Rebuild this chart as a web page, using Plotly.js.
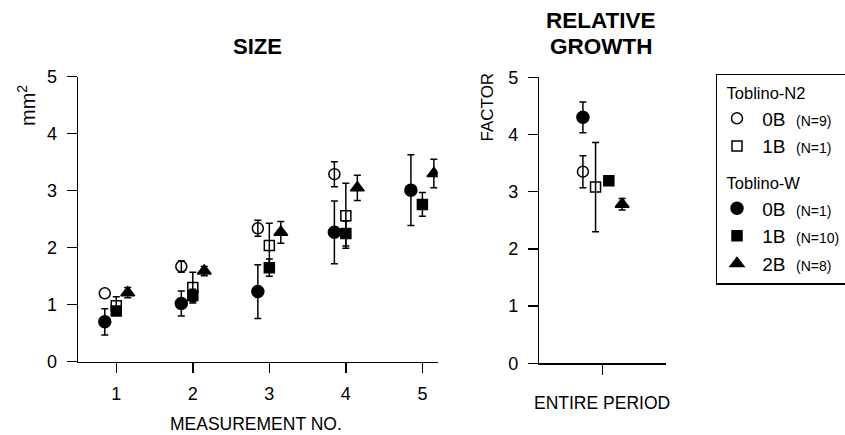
<!DOCTYPE html>
<html>
<head>
<meta charset="utf-8">
<script src="https://cdn.plot.ly/plotly-3.0.1.min.js"></script>
<style>html,body{margin:0;padding:0;background:#fff;}#chart{width:845px;height:435px;}</style>
</head>
<body>
<div id="chart"></div>
<script>
// ---- data ----
var measurements = [1, 2, 3, 4, 5];
var tickLabelsY = ['0', '1', '2', '3', '4', '5'];

// SIZE (mm^2), mean and error (NaN = no visible error bar)
var n2_0B_size = [1.20, 1.67, 2.34, 3.29, null];
var n2_0B_err  = [NaN, 0.10, 0.14, 0.22, NaN];
var n2_1B_size = [0.98, 1.30, 2.04, 2.56, null];
var n2_1B_err  = [0.16, 0.27, 0.39, 0.57, NaN];
var w_0B_size  = [0.70, 1.02, 1.23, 2.27, 3.01];
var w_0B_err   = [0.23, 0.22, 0.47, 0.55, 0.62];
var w_1B_size  = [0.89, 1.16, 1.65, 2.25, 2.76];
var w_1B_err   = [NaN, 0.11, 0.15, 0.22, 0.21];
var w_2B_size  = [1.21, 1.59, 2.27, 3.05, 3.30];
var w_2B_err   = [0.09, 0.08, 0.19, 0.22, 0.25];

// RELATIVE GROWTH factor (entire period)
var growthCategory = 0;
var n2_0B_growth = 3.35, n2_0B_growth_err = 0.28;
var n2_1B_growth = 3.08, n2_1B_growth_err = 0.78;
var w_0B_growth  = 4.30, w_0B_growth_err  = 0.27;
var w_1B_growth  = 3.19, w_1B_growth_err  = NaN;
var w_2B_growth  = 2.78, w_2B_growth_err  = 0.10;

var seriesNames = ['0B', '1B', '0B', '1B', '2B'];
var seriesN = ['(N=9)', '(N=1)', '(N=1)', '(N=10)', '(N=8)'];
var groupTitles = ['Toblino-N2', 'Toblino-W'];

// ---- styling (not data) ----
var dodgeSize = [-0.15, 0, -0.15, 0, 0.15];
var dodgeGrowth = [-0.31, -0.11, -0.31, 0.10, 0.31];
var groups = ['n2', 'n2', 'w', 'w', 'w'];
var symbols = ['circle-open', 'square-open', 'circle', 'square', 'triangle-up'];
var msizes = [11, 10, 12, 10, 12];

var sizeVals = [n2_0B_size, n2_1B_size, w_0B_size, w_1B_size, w_2B_size];
var sizeErrs = [n2_0B_err, n2_1B_err, w_0B_err, w_1B_err, w_2B_err];
var growthVals = [n2_0B_growth, n2_1B_growth, w_0B_growth, w_1B_growth, w_2B_growth];
var growthErrs = [n2_0B_growth_err, n2_1B_growth_err, w_0B_growth_err, w_1B_growth_err, w_2B_growth_err];

var FONT = 'Liberation Sans, Arial, Helvetica, sans-serif';
var NB = '\u00a0';
var traces = [];
for (var i = 0; i < 5; i++) {
  var gi = groups[i] === 'n2' ? 0 : 1;
  var xs = measurements.map(function (m) { return m + dodgeSize[i]; });
  traces.push({
    type: 'scatter', mode: 'markers', xaxis: 'x', yaxis: 'y',
    x: xs, y: sizeVals[i],
    error_y: {type: 'data', array: sizeErrs[i], visible: true, color: '#000', thickness: 1.5, width: 3.5},
    marker: {symbol: symbols[i], size: msizes[i], color: '#000', line: {color: '#000', width: 1.5}},
    name: NB + seriesNames[i] + NB + NB + '<span style="font-size:14px">' + seriesN[i] + '</span>',
    legendgroup: groups[i],
    legendgrouptitle: {text: NB + groupTitles[gi], font: {size: 16.5, family: FONT, color: '#000'}},
    showlegend: true, hoverinfo: 'skip'
  });
}
for (var j = 0; j < 5; j++) {
  traces.push({
    type: 'scatter', mode: 'markers', xaxis: 'x2', yaxis: 'y2',
    x: [growthCategory + dodgeGrowth[j]], y: [growthVals[j]],
    error_y: {type: 'data', array: [growthErrs[j]], visible: true, color: '#000', thickness: 1.5, width: 3.5},
    marker: {symbol: symbols[j], size: msizes[j], color: '#000', line: {color: '#000', width: 1.5}},
    legendgroup: groups[j], showlegend: false, hoverinfo: 'skip'
  });
}

var W = 845, H = 435;
function px(x) { return x / W; }
function py(y) { return 1 - y / H; }

var axBase = {
  showline: true, linecolor: '#000', linewidth: 1.5, mirror: false,
  ticks: 'outside', ticklen: 10, tickwidth: 1.5, tickcolor: '#000',
  showgrid: false, zeroline: false,
  tickfont: {size: 18, family: FONT, color: '#000'}
};

var layout = {
  width: W, height: H,
  margin: {l: 0, r: 0, t: 0, b: 0, pad: 0, autoexpand: false},
  paper_bgcolor: '#fff', plot_bgcolor: 'rgba(0,0,0,0)',
  font: {family: FONT, color: '#000'},
  xaxis: Object.assign({}, axBase, {
    domain: [px(78), px(437.7)], range: [0.5, 5.2],
    tickvals: measurements, ticktext: measurements.map(String),
    ticklabelstandoff: 5, anchor: 'y'
  }),
  yaxis: Object.assign({}, axBase, {
    domain: [py(361.7), py(76.7)], range: [0, 5],
    tickvals: [0, 1, 2, 3, 4, 5], ticktext: tickLabelsY,
    ticklabelstandoff: 6, anchor: 'x'
  }),
  xaxis2: Object.assign({}, axBase, {
    domain: [px(539.3), px(665.7)], range: [-1, 1],
    tickvals: [growthCategory], ticktext: [''], anchor: 'y2'
  }),
  yaxis2: Object.assign({}, axBase, {
    domain: [py(363.3), py(77.3)], range: [0, 5],
    tickvals: [0, 1, 2, 3, 4, 5], ticktext: tickLabelsY,
    ticklabelstandoff: 6, anchor: 'x2'
  }),
  legend: {
    x: px(715.5), y: py(73.5), xanchor: 'left', yanchor: 'top',
    bordercolor: '#000', borderwidth: 1.5, bgcolor: '#fff',
    font: {size: 19, family: FONT, color: '#000'},
    traceorder: 'grouped', tracegroupgap: 10, itemclick: false, itemdoubleclick: false
  },
  annotations: [
    {text: '<b>SIZE</b>', x: px(257), y: py(46), xref: 'paper', yref: 'paper',
     xanchor: 'center', yanchor: 'middle', showarrow: false, font: {size: 22, family: FONT}},
    {text: '<b>RELATIVE</b>', x: px(601), y: py(21), xref: 'paper', yref: 'paper',
     xanchor: 'center', yanchor: 'middle', showarrow: false, font: {size: 22.5, family: FONT}},
    {text: '<b>GROWTH</b>', x: px(601), y: py(46), xref: 'paper', yref: 'paper',
     xanchor: 'center', yanchor: 'middle', showarrow: false, font: {size: 22.5, family: FONT}},
    {text: 'mm<sup>2</sup>', x: px(27), y: py(106), xref: 'paper', yref: 'paper', textangle: -90,
     xanchor: 'center', yanchor: 'middle', showarrow: false, font: {size: 20, family: FONT}},
    {text: 'FACTOR', x: px(487), y: py(107.5), xref: 'paper', yref: 'paper', textangle: -90,
     xanchor: 'center', yanchor: 'middle', showarrow: false, font: {size: 17, family: FONT}},
    {text: 'MEASUREMENT NO.', x: px(256), y: py(424), xref: 'paper', yref: 'paper',
     xanchor: 'center', yanchor: 'middle', showarrow: false, font: {size: 17.5, family: FONT}},
    {text: 'ENTIRE PERIOD', x: px(602), y: py(402.5), xref: 'paper', yref: 'paper',
     xanchor: 'center', yanchor: 'middle', showarrow: false, font: {size: 17.5, family: FONT}}
  ],
  showlegend: true
};

Plotly.newPlot('chart', traces, layout, {displayModeBar: false, staticPlot: true});
</script>
</body>
</html>
